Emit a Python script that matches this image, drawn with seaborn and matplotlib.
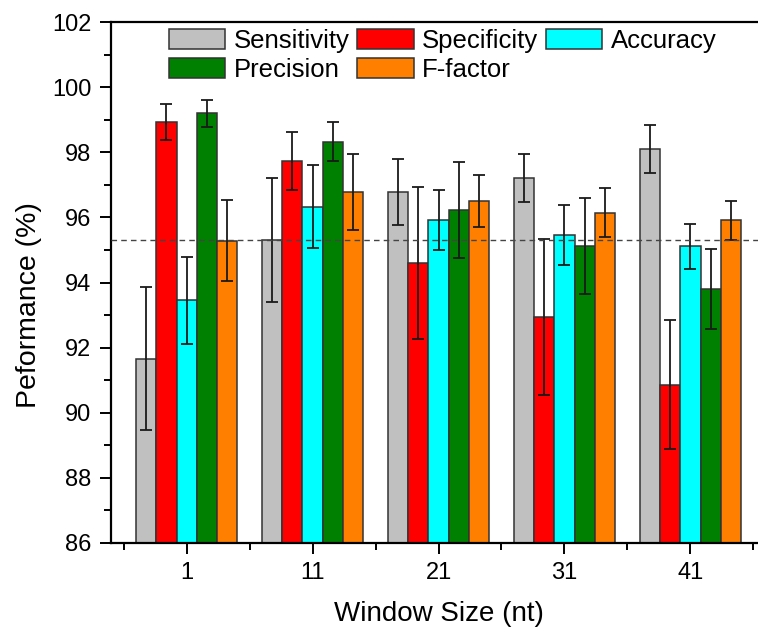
import matplotlib
matplotlib.use("Agg")
import matplotlib.pyplot as plt
from matplotlib.ticker import MultipleLocator, FixedLocator
from matplotlib.patches import Patch
import seaborn as sns
import pandas as pd
import numpy as np

# ---- data ----
windows = ["1", "11", "21", "31", "41"]
metrics = ["Sensitivity", "Specificity", "Accuracy", "Precision", "F-factor"]
sensitivity = [91.65, 95.31, 96.79, 97.21, 98.11]
specificity = [98.93, 97.74, 94.60, 92.94, 90.86]
accuracy = [93.45, 96.33, 95.92, 95.46, 95.11]
precision = [99.20, 98.33, 96.24, 95.13, 93.79]
f_factor = [95.29, 96.78, 96.52, 96.15, 95.91]
sens_err = [2.20, 1.90, 1.02, 0.73, 0.74]
spec_err = [0.55, 0.90, 2.33, 2.39, 1.98]
acc_err = [1.34, 1.27, 0.93, 0.91, 0.70]
prec_err = [0.42, 0.60, 1.48, 1.48, 1.23]
f_err = [1.24, 1.18, 0.80, 0.76, 0.60]
reference_level = 95.3
colors = ["#C0C0C0", "#FF0000", "#00FFFF", "#008000", "#FF8000"]

values = [sensitivity, specificity, accuracy, precision, f_factor]
errors = [sens_err, spec_err, acc_err, prec_err, f_err]

rows = []
for m, vals, errs in zip(metrics, values, errors):
    for w, v, e in zip(windows, vals, errs):
        rows.append({"window": w, "metric": m, "value": v, "err": e})
df = pd.DataFrame(rows)

sns.set_style("ticks")
plt.rcParams["font.family"] = ["Liberation Sans", "DejaVu Sans"]
plt.rcParams["text.color"] = "black"
plt.rcParams["axes.labelcolor"] = "black"
plt.rcParams["xtick.color"] = "black"
plt.rcParams["ytick.color"] = "black"

fig = plt.figure(figsize=(7.58, 6.28), dpi=100)
ax = fig.add_axes([111 / 758, 85.3 / 628, 655 / 758, 520.4 / 628])

sns.barplot(data=df, x="window", y="value", hue="metric", order=windows,
            hue_order=metrics, palette=colors, width=0.8, errorbar=None,
            edgecolor="#333333", linewidth=1.1, saturation=1, ax=ax, legend=False)

for cont, m in zip(ax.containers, metrics):
    sub = df[df["metric"] == m].set_index("window").loc[windows]
    xs = [b.get_x() + b.get_width() / 2 for b in cont]
    ax.errorbar(xs, sub["value"].values, yerr=sub["err"].values, fmt="none",
                ecolor="#1a1a1a", elinewidth=1.3, capsize=4.6, capthick=1.3, zorder=5)

ax.axhline(reference_level, color="#444444", lw=1.0, ls=(0, (4, 3)), zorder=6)

ax.set_ylim(86, 102)
ax.set_xlim(-0.6, 4.6)
ax.yaxis.set_major_locator(MultipleLocator(2))
ax.yaxis.set_minor_locator(MultipleLocator(1))
ax.xaxis.set_minor_locator(FixedLocator([-0.5, 0.5, 1.5, 2.5, 3.5, 4.5]))

for s in ax.spines.values():
    s.set_linewidth(1.6)
    s.set_color("black")
ax.tick_params(axis="both", which="major", direction="out", length=8, width=1.4,
               labelsize=17, colors="black", pad=6)
ax.tick_params(axis="both", which="minor", direction="out", length=5, width=1.4)
ax.tick_params(top=False, right=False, which="both")

ax.set_xlabel("Window Size (nt)", fontsize=20, labelpad=12, color="black")
ax.set_ylabel("Peformance (%)", fontsize=20.5, color="black")
ax.yaxis.set_label_coords(-0.106, 0.457)

handles = [Patch(facecolor=c, edgecolor="#333333", linewidth=1.1) for c in colors]
order = [0, 3, 1, 4, 2]
leg = ax.legend([handles[i] for i in order], [metrics[i] for i in order], ncol=3,
                loc="upper left", bbox_to_anchor=(0.080, 0.997), frameon=False,
                fontsize=18.5, handlelength=2.2, handleheight=0.85,
                handletextpad=0.33, columnspacing=0.3, labelspacing=0.18,
                borderaxespad=0, borderpad=0.2)
for t in leg.get_texts():
    t.set_color("black")

fig.savefig("out.png", dpi=100)
